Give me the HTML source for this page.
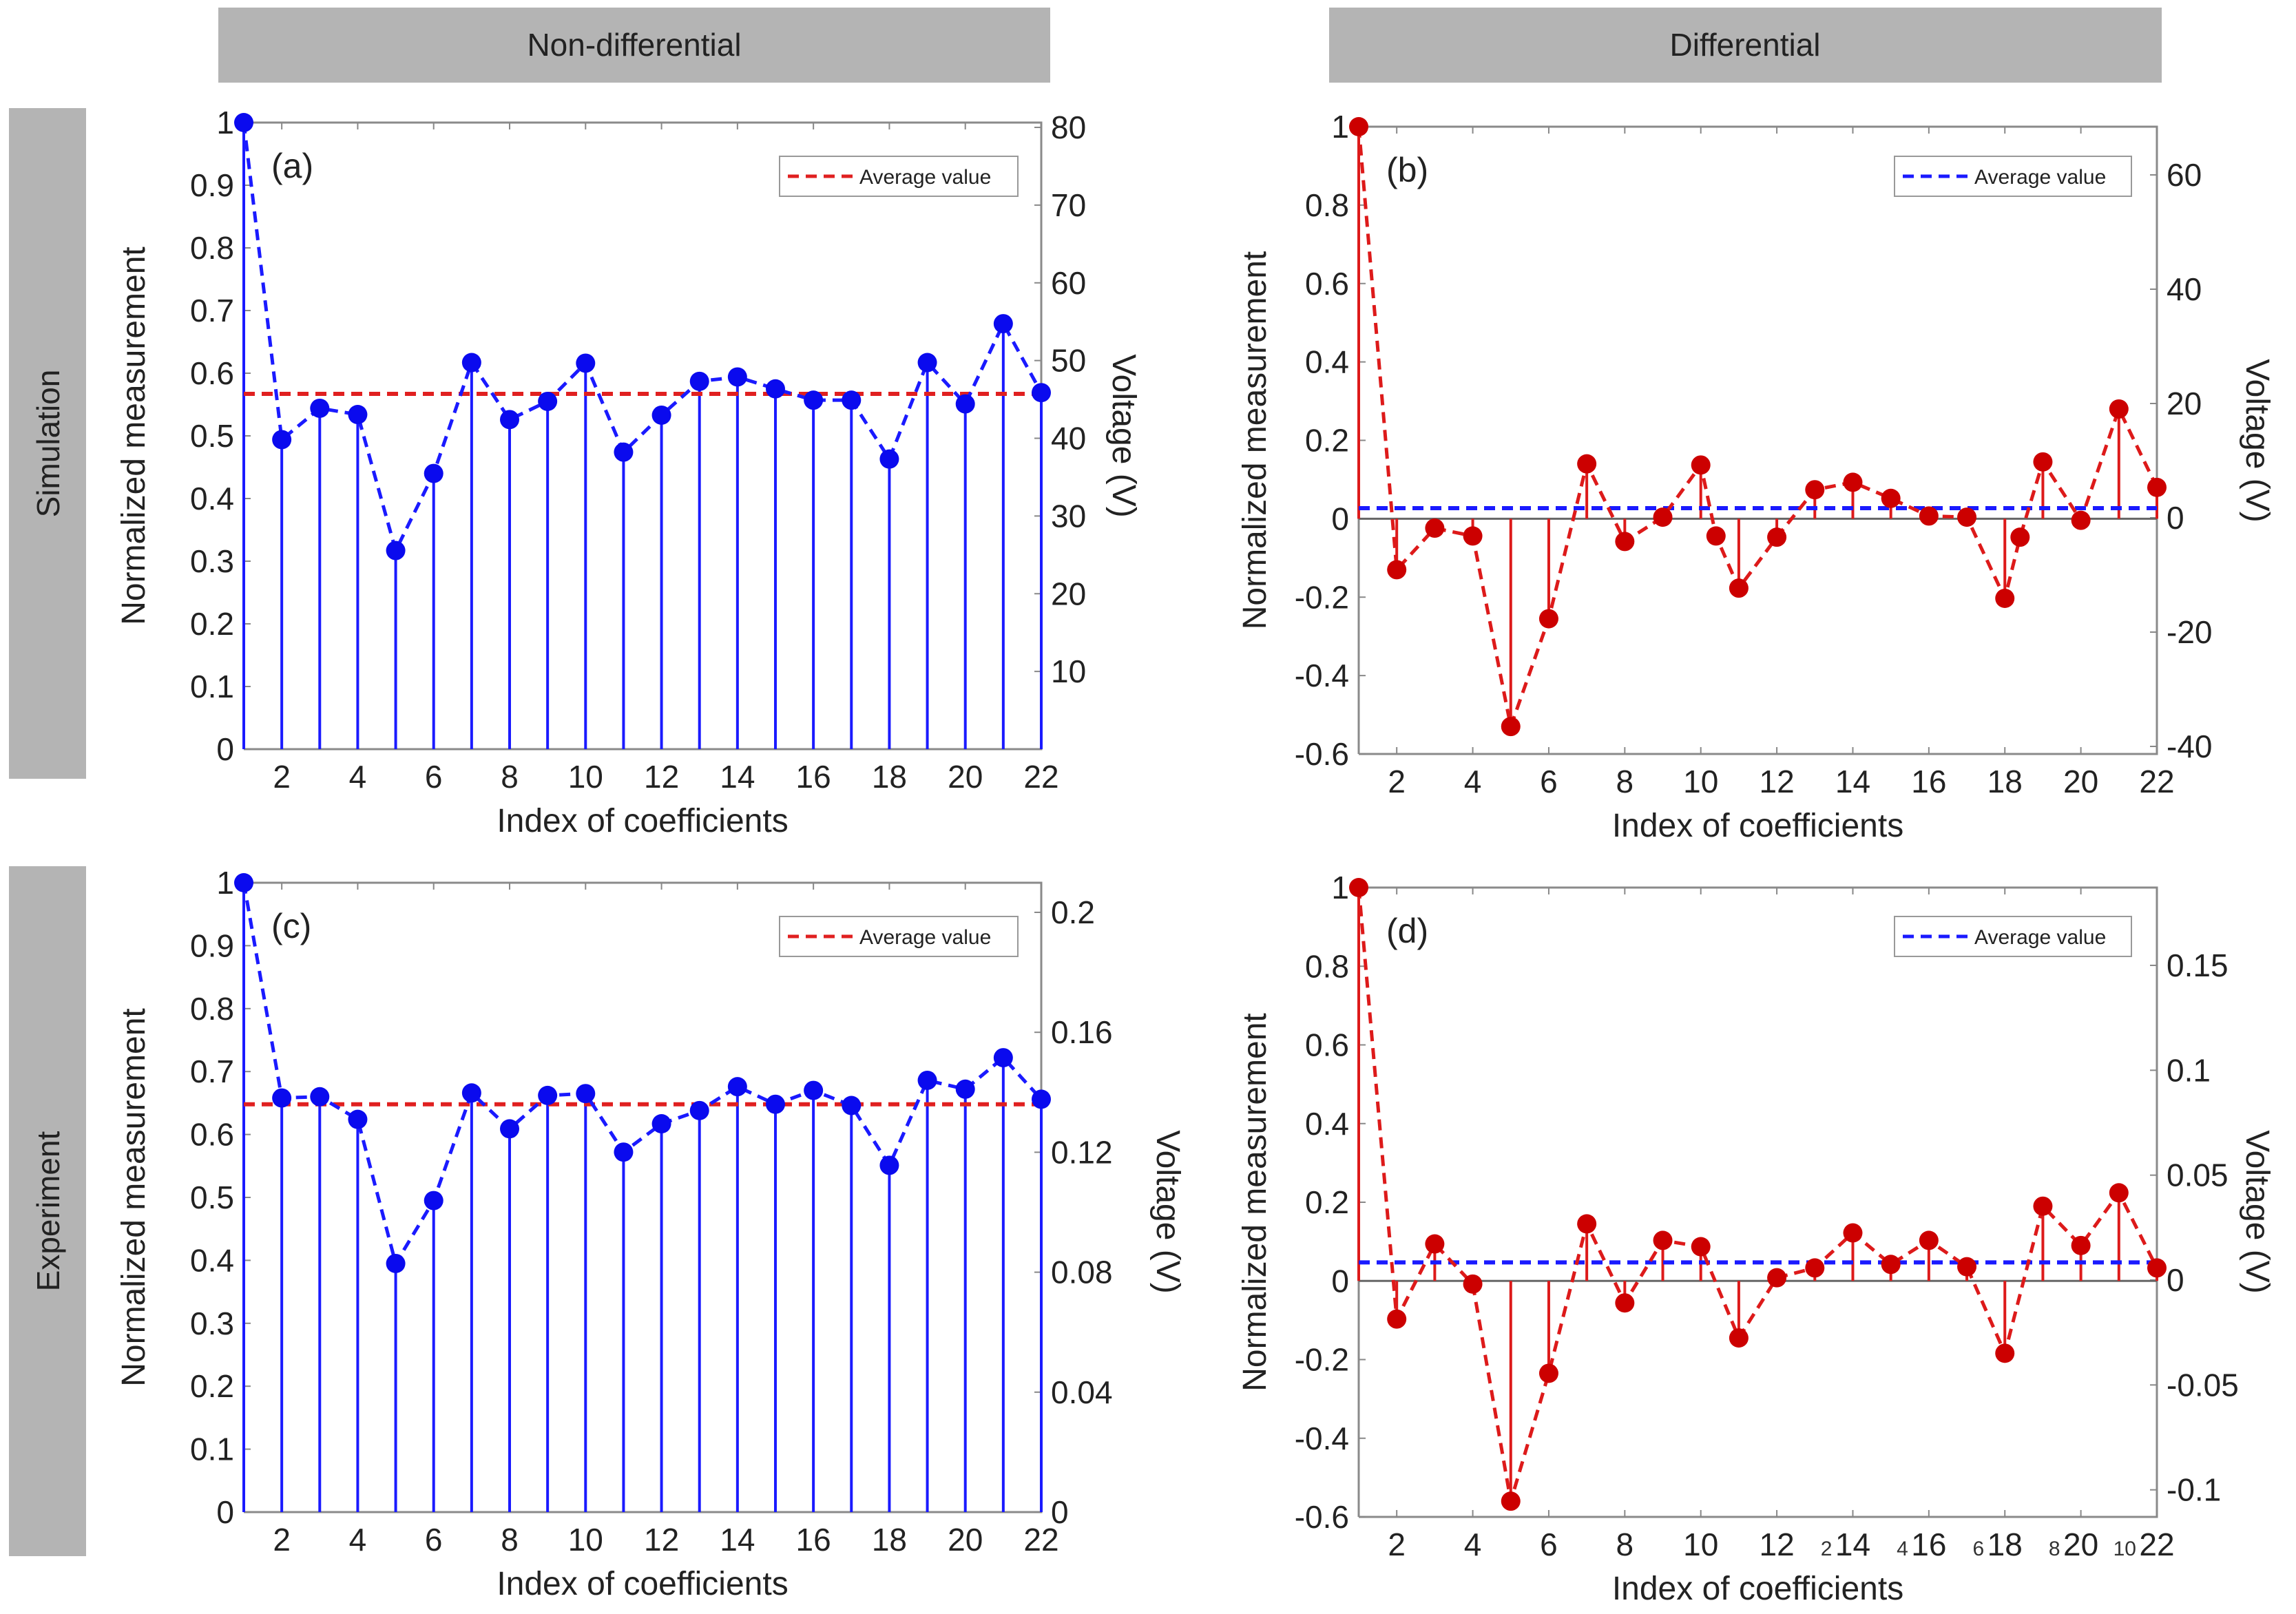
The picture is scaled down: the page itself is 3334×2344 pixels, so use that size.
<!DOCTYPE html>
<html><head><meta charset="utf-8">
<style>
html,body{margin:0;padding:0;background:#fff;}
svg{display:block;font-family:"Liberation Sans",sans-serif;}
</style></head>
<body>
<svg id="fig" width="3334" height="2344" viewBox="0 0 3334 2344" xmlns="http://www.w3.org/2000/svg">
<rect x="317" y="11" width="1208" height="109" fill="#b4b4b4"/>
<text x="921" y="81" font-size="46" text-anchor="middle" fill="#222">Non-differential</text>
<rect x="1930" y="11" width="1209" height="109" fill="#b4b4b4"/>
<text x="2534" y="81" font-size="46" text-anchor="middle" fill="#222">Differential</text>
<rect x="13" y="157" width="112" height="974" fill="#b4b4b4"/>
<text transform="translate(86,644) rotate(-90)" font-size="46" text-anchor="middle" fill="#222">Simulation</text>
<rect x="13" y="1258" width="112" height="1002" fill="#b4b4b4"/>
<text transform="translate(86,1759) rotate(-90)" font-size="46" text-anchor="middle" fill="#222">Experiment</text>
</svg>
<script>
// ---- data ----
const idx = [1,2,3,4,5,6,7,8,9,10,11,12,13,14,15,16,17,18,19,20,21,22];
const aVals = [1,0.494,0.544,0.534,0.317,0.44,0.617,0.526,0.555,0.616,0.474,0.533,0.587,0.594,0.575,0.557,0.557,0.463,0.617,0.551,0.679,0.569];
const aAvg = 0.567;
const bIdx = [1,2,3,4,5,6,7,8,9,10,10.4,11,12,13,14,15,16,17,18,18.4,19,20,21,22];
const bVals = [1,-0.13,-0.024,-0.044,-0.53,-0.255,0.14,-0.058,0.004,0.137,-0.044,-0.177,-0.047,0.074,0.093,0.052,0.007,0.004,-0.203,-0.047,0.145,-0.004,0.28,0.08];
const bAvg = 0.027;
const cVals = [1,0.658,0.66,0.624,0.395,0.495,0.666,0.609,0.662,0.665,0.572,0.617,0.638,0.676,0.648,0.67,0.646,0.551,0.686,0.672,0.722,0.656];
const cAvg = 0.648;
const dVals = [1,-0.097,0.094,-0.008,-0.56,-0.235,0.145,-0.056,0.103,0.087,-0.145,0.008,0.033,0.122,0.042,0.103,0.036,-0.184,0.19,0.09,0.224,0.033];
const dAvg = 0.047;
const xTicks = [2,4,6,8,10,12,14,16,18,20,22];
const yTicksND = [0,0.1,0.2,0.3,0.4,0.5,0.6,0.7,0.8,0.9,1];
const yTicksD = [-0.6,-0.4,-0.2,0,0.2,0.4,0.6,0.8,1];
const rTicksA = [10,20,30,40,50,60,70,80];
const rTicksB = [-40,-20,0,20,40,60];
const rTicksC = [0,0.04,0.08,0.12,0.16,0.2];
const rTicksD = [-0.1,-0.05,0,0.05,0.1,0.15];
const dPrefix = ['2','4','6','8','10'];

const NS='http://www.w3.org/2000/svg';
const svg=document.getElementById('fig');
function el(tag,attrs,parent){const e=document.createElementNS(NS,tag);for(const k in attrs)e.setAttribute(k,attrs[k]);(parent||svg).appendChild(e);return e;}
function fmt(v){return String(Math.round(v*1000)/1000);}

function panel(cfg){
  const g=el('g',{});
  
  
  const L=cfg.left,R=cfg.right,T=cfg.top,B=cfg.bottom;
  const xs=i=>L+(i-1)*(R-L)/21;
  const ys=v=>T+(cfg.ymax-v)*(B-T)/(cfg.ymax-cfg.ymin);
  const rs=v=>cfg.r0+(cfg.rRef-cfg.r0)*(v/cfg.rRefVal);
  const box=el('path',{d:`M${L} ${B} L${L} ${T} L${R} ${T} L${R} ${B} L${L} ${B}`,fill:'none',stroke:'#8a8a8a','stroke-width':3},g);
  
  
  xTicks.forEach((t,k)=>{
    const x=xs(t);
    el('line',{x1:x,x2:x,y1:B,y2:B-10,stroke:'#888','stroke-width':2},g);
    el('line',{x1:x,x2:x,y1:T,y2:T+10,stroke:'#888','stroke-width':2},g);
    const tx=el('text',{x:x,y:B+56,'font-size':46,'text-anchor':'middle',fill:'#222'},g);
    tx.textContent=t;
    
    
    if(cfg.prefix && t>=14){
      const p=el('text',{x:x-30,y:B+56,'font-size':30,'text-anchor':'end',fill:'#333'},g);
      p.textContent=dPrefix[(t-14)/2];
      
      
    }
  });
  cfg.yTicks.forEach(t=>{
    const y=ys(t);
    el('line',{x1:L,x2:L+10,y1:y,y2:y,stroke:'#888','stroke-width':2},g);
    const tx=el('text',{x:L-14,y:y+16,'font-size':46,'text-anchor':'end',fill:'#222'},g);
    tx.textContent=fmt(t);
    
    
  });
  cfg.rTicks.forEach(t=>{
    const y=rs(t);
    el('line',{x1:R,x2:R-10,y1:y,y2:y,stroke:'#888','stroke-width':2},g);
    const tx=el('text',{x:R+14,y:y+16,'font-size':46,'text-anchor':'start',fill:'#222'},g);
    tx.textContent=fmt(t);
    
    
  });
  if(cfg.ymin<0){
    const z=el('line',{x1:L,x2:R,y1:ys(0),y2:ys(0),stroke:'#666','stroke-width':3},g);
    
    
  }
  cfg.xi.forEach((i,k)=>{
    if(!Number.isInteger(i))return;
    const s=el('line',{x1:xs(i),x2:xs(i),y1:ys(Math.max(cfg.ymin,0)),y2:ys(cfg.vals[k]),stroke:cfg.stem,'stroke-width':4},g);
    
    
  });
  const av=el('line',{x1:L,x2:R,y1:ys(cfg.avg),y2:ys(cfg.avg),stroke:cfg.avgColor,'stroke-width':6,'stroke-dasharray':'16 10'},g);
  
  
  const pts=cfg.xi.map((i,k)=>xs(i)+','+ys(cfg.vals[k])).join(' ');
  const pl=el('polyline',{points:pts,fill:'none',stroke:cfg.line,'stroke-width':5,'stroke-dasharray':'16 10'},g);
  
  
  cfg.xi.forEach((i,k)=>{
    const c=el('circle',{cx:xs(i),cy:ys(cfg.vals[k]),r:14,fill:cfg.marker},g);
    
    
  });
  const pl2=el('text',{x:L+40,y:T+80,'font-size':50,fill:'#222'},g);
  pl2.textContent='('+cfg.id+')';
  
  
  const lg=el('g',{},g);
  
  
  el('rect',{x:cfg.legX,y:T+cfg.legDy,width:cfg.legW,height:58,fill:'#fff',stroke:'#999','stroke-width':2},lg);
  el('line',{x1:cfg.legX+12,x2:cfg.legX+108,y1:T+cfg.legDy+29,y2:T+cfg.legDy+29,stroke:cfg.avgColor,'stroke-width':5,'stroke-dasharray':'16 10'},lg);
  const lt=el('text',{x:cfg.legX+116,y:T+cfg.legDy+40,'font-size':30,fill:'#222'},lg);
  lt.textContent='Average value';
  
  
  const yl=el('text',{transform:`translate(${cfg.ylx},${(T+B)/2}) rotate(-90)`,'font-size':48,'text-anchor':'middle',fill:'#222'},g);
  yl.textContent='Normalized measurement';
  
  
  const rl=el('text',{transform:`translate(${cfg.rlx},${cfg.rly}) rotate(90)`,'font-size':48,'text-anchor':'middle',fill:'#222'},g);
  rl.textContent='Voltage (V)';
  
  
  const xl=el('text',{x:(L+R)/2,y:B+120,'font-size':48,'text-anchor':'middle',fill:'#222'},g);
  xl.textContent='Index of coefficients';
  
  
}

panel({id:'a',left:354,right:1512,top:178,bottom:1088,ymin:0,ymax:1,xi:idx,vals:aVals,avg:aAvg,
  stem:'#1a1aff',line:'#1a1aff',marker:'#0a0aee',avgColor:'#e02020',yTicks:yTicksND,rTicks:rTicksA,
  r0:1088,rRef:185,rRefVal:80,legX:1132,legDy:49,legW:346,ylx:210,rlx:1616,rly:633});
panel({id:'b',left:1973,right:3132,top:184,bottom:1095,ymin:-0.6,ymax:1,xi:bIdx,vals:bVals,avg:bAvg,
  stem:'#dd1a1a',line:'#dd1a1a',marker:'#cc0000',avgColor:'#1a1aff',yTicks:yTicksD,rTicks:rTicksB,
  r0:752,rRef:254,rRefVal:60,legX:2751,legDy:43,legW:344,ylx:1838,rlx:3262,rly:640});
panel({id:'c',left:354,right:1512,top:1282,bottom:2196,ymin:0,ymax:1,xi:idx,vals:cVals,avg:cAvg,
  stem:'#1a1aff',line:'#1a1aff',marker:'#0a0aee',avgColor:'#e02020',yTicks:yTicksND,rTicks:rTicksC,
  r0:2196,rRef:1325,rRefVal:0.2,legX:1132,legDy:49,legW:346,ylx:210,rlx:1680,rly:1760});
panel({id:'d',left:1973,right:3132,top:1289,bottom:2203,ymin:-0.6,ymax:1,xi:idx,vals:dVals,avg:dAvg,
  stem:'#dd1a1a',line:'#dd1a1a',marker:'#cc0000',avgColor:'#1a1aff',yTicks:yTicksD,rTicks:rTicksD,
  r0:1859,rRef:1402,rRefVal:0.15,legX:2751,legDy:42,legW:344,ylx:1838,rlx:3262,rly:1760,prefix:true});
</script>
</body></html>
